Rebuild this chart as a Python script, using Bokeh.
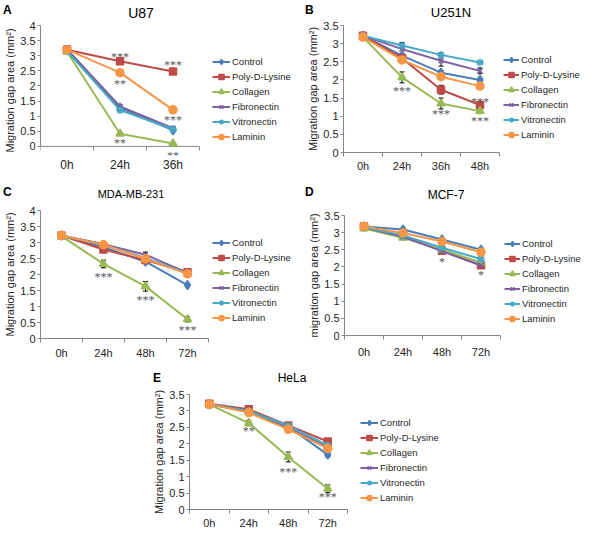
from bokeh.plotting import figure
from bokeh.models import (Range1d, FixedTicker, PrintfTickFormatter, Legend, LegendItem,
                          LabelSet, Whisker, TeeHead, ColumnDataSource, Spacer, Div)
from bokeh.layouts import column, row
from bokeh.embed import file_html
from bokeh.resources import INLINE

# ---------------- data ----------------
SERIES = ["Control", "Poly-D-Lysine", "Collagen", "Fibronectin", "Vitronectin", "Laminin"]

U87_TIMES = ["0h", "24h", "36h"]
U87_VALUES = {
    "Control":       [3.20, 1.28, 0.53],
    "Poly-D-Lysine": [3.20, 2.82, 2.48],
    "Collagen":      [3.13, 0.42, 0.10],
    "Fibronectin":   [3.22, 1.32, 0.60],
    "Vitronectin":   [3.15, 1.20, 0.57],
    "Laminin":       [3.20, 2.44, 1.21],
}
U87_ERRORS = {
    "Control":       [0.10, 0.05, 0.04],
    "Poly-D-Lysine": [0.13, 0.05, 0.04],
    "Collagen":      [0.05, 0.04, 0.03],
    "Fibronectin":   [0.05, 0.05, 0.04],
    "Vitronectin":   [0.05, 0.05, 0.04],
    "Laminin":       [0.05, 0.05, 0.04],
}
U87_SIG_T = ["24h", "36h", "24h", "36h", "24h", "36h"]
U87_SIG_Y = [3.07, 2.79, 2.18, 0.99, 0.20, -0.22]
U87_SIG = ["***", "***", "**", "***", "**", "**"]

U251N_TIMES = ["0h", "24h", "36h", "48h"]
U251N_VALUES = {
    "Control":       [3.22, 2.67, 2.20, 2.00],
    "Poly-D-Lysine": [3.22, 2.60, 1.73, 1.31],
    "Collagen":      [3.18, 2.07, 1.35, 1.14],
    "Fibronectin":   [3.22, 2.85, 2.53, 2.25],
    "Vitronectin":   [3.22, 2.95, 2.69, 2.48],
    "Laminin":       [3.18, 2.55, 2.09, 1.83],
}
U251N_ERRORS = {
    "Control":       [0.05, 0.06, 0.05, 0.05],
    "Poly-D-Lysine": [0.05, 0.05, 0.12, 0.08],
    "Collagen":      [0.05, 0.15, 0.15, 0.06],
    "Fibronectin":   [0.05, 0.15, 0.15, 0.08],
    "Vitronectin":   [0.05, 0.08, 0.05, 0.03],
    "Laminin":       [0.04, 0.05, 0.05, 0.05],
}
U251N_SIG_T = ["24h", "36h", "48h", "48h"]
U251N_SIG_Y = [1.78, 1.13, 1.47, 0.95]
U251N_SIG = ["***", "***", "***", "***"]

MDA_TIMES = ["0h", "24h", "48h", "72h"]
MDA_VALUES = {
    "Control":       [3.22, 2.85, 2.40, 1.67],
    "Poly-D-Lysine": [3.22, 2.78, 2.45, 2.07],
    "Collagen":      [3.20, 2.33, 1.63, 0.60],
    "Fibronectin":   [3.22, 2.95, 2.62, 2.05],
    "Vitronectin":   [3.22, 2.92, 2.52, 2.03],
    "Laminin":       [3.22, 2.93, 2.49, 2.02],
}
MDA_ERRORS = {
    "Control":       [0.07, 0.07, 0.06, 0.04],
    "Poly-D-Lysine": [0.07, 0.07, 0.06, 0.05],
    "Collagen":      [0.07, 0.12, 0.15, 0.08],
    "Fibronectin":   [0.07, 0.07, 0.08, 0.05],
    "Vitronectin":   [0.07, 0.07, 0.06, 0.05],
    "Laminin":       [0.07, 0.07, 0.06, 0.05],
}
MDA_SIG_T = ["24h", "48h", "72h"]
MDA_SIG_Y = [2.02, 1.31, 0.35]
MDA_SIG = ["***", "***", "***"]

MCF_TIMES = ["0h", "24h", "48h", "72h"]
MCF_VALUES = {
    "Control":       [3.18, 3.09, 2.80, 2.50],
    "Poly-D-Lysine": [3.18, 2.90, 2.47, 2.05],
    "Collagen":      [3.12, 2.85, 2.50, 2.13],
    "Fibronectin":   [3.15, 2.88, 2.46, 2.04],
    "Vitronectin":   [3.15, 2.92, 2.56, 2.23],
    "Laminin":       [3.18, 2.99, 2.74, 2.43],
}
MCF_ERRORS = {
    "Control":       [0.05, 0.04, 0.05, 0.05],
    "Poly-D-Lysine": [0.05, 0.04, 0.05, 0.07],
    "Collagen":      [0.05, 0.04, 0.05, 0.05],
    "Fibronectin":   [0.05, 0.04, 0.05, 0.05],
    "Vitronectin":   [0.05, 0.04, 0.05, 0.05],
    "Laminin":       [0.05, 0.04, 0.05, 0.05],
}
MCF_SIG_T = ["48h", "72h"]
MCF_SIG_Y = [2.23, 1.84]
MCF_SIG = ["*", "*"]

HELA_TIMES = ["0h", "24h", "48h", "72h"]
HELA_VALUES = {
    "Control":       [3.20, 3.02, 2.52, 1.67],
    "Poly-D-Lysine": [3.22, 3.05, 2.56, 2.07],
    "Collagen":      [3.20, 2.63, 1.60, 0.63],
    "Fibronectin":   [3.20, 2.98, 2.48, 1.90],
    "Vitronectin":   [3.20, 3.00, 2.55, 1.95],
    "Laminin":       [3.20, 2.95, 2.44, 1.86],
}
HELA_ERRORS = {
    "Control":       [0.10, 0.05, 0.05, 0.07],
    "Poly-D-Lysine": [0.10, 0.05, 0.05, 0.05],
    "Collagen":      [0.10, 0.08, 0.15, 0.12],
    "Fibronectin":   [0.10, 0.05, 0.05, 0.05],
    "Vitronectin":   [0.10, 0.05, 0.05, 0.05],
    "Laminin":       [0.10, 0.05, 0.05, 0.05],
}
HELA_SIG_T = ["24h", "48h", "72h"]
HELA_SIG_Y = [2.47, 1.24, 0.47]
HELA_SIG = ["**", "***", "***"]

# ---------------- styles ----------------
COLORS = ["#4A7EBB", "#BE4B48", "#98B954", "#7D60A0", "#46AAC5", "#F79646"]
MARKERS = ["diamond", "square", "triangle", "x", "asterisk", "circle"]
MSIZES = [9, 7, 8, 7, 8, 8]
FONT = "Liberation Sans"
TXT = "#262626"
AXIS = "#868686"


def header(width, height, letter, lx, ly, title, tx, ty, tfs):
    html = (
        f'<div style="position:relative;width:{width}px;height:{height}px;'
        f'font-family:\'Liberation Sans\',Arial,sans-serif;color:#000;overflow:visible">'
        f'<span style="position:absolute;left:{lx}px;top:{ly}px;font-size:12px;'
        f'line-height:12px;font-weight:bold">{letter}</span>'
        f'<span style="position:absolute;left:{tx}px;top:{ty}px;font-size:{tfs}px;'
        f'line-height:{tfs}px;transform:translateX(-50%);white-space:nowrap">{title}</span>'
        f'</div>')
    return Div(text=html, width=width, height=height, margin=0)


def build(cfg):
    times = cfg["times"]
    n = len(times)
    xs = list(range(1, n + 1))
    bounds = [x - 0.5 for x in xs] + [n + 0.5]
    frame_w = cfg["w"] - cfg["bl"] - cfg["br"]
    frame_h = cfg["h"] - cfg["bt"] - cfg["bb"]
    x_end = 0.5 + frame_w / cfg["cat_px"]          # frame also holds the legend area
    ymin, ymax = cfg["ymin"], cfg["ymax"]
    p = figure(width=cfg["w"], height=cfg["h"],
               x_range=Range1d(0.5, x_end), y_range=Range1d(ymin, ymax),
               output_backend="svg", toolbar_location=None,
               min_border_left=cfg["bl"], min_border_right=cfg["br"],
               min_border_top=cfg["bt"], min_border_bottom=cfg["bb"])
    p.outline_line_color = None
    p.xgrid.visible = False
    p.ygrid.visible = False
    p.background_fill_color = None
    p.border_fill_color = None

    # y axis
    ya = p.yaxis[0]
    ya.ticker = FixedTicker(ticks=[i * 0.5 for i in range(int(ymax * 2) + 1)])
    ya.formatter = PrintfTickFormatter(format="%g")
    ya.bounds = (0, ymax)
    ya.axis_line_color = AXIS
    ya.major_tick_line_color = AXIS
    ya.major_tick_out = 3
    ya.major_tick_in = 0
    ya.minor_tick_line_color = None
    ya.major_label_standoff = 2
    ya.major_label_text_font = FONT
    ya.major_label_text_font_size = cfg["tick_fs"]
    ya.major_label_text_color = TXT
    ya.axis_label = cfg["ylabel"]
    ya.axis_label_standoff = 1
    ya.axis_label_text_font = FONT
    ya.axis_label_text_font_style = "normal"
    ya.axis_label_text_font_size = cfg["ylab_fs"]
    ya.axis_label_text_color = TXT

    # x axis: labels at category centres, ticks at category boundaries
    xa = p.xaxis[0]
    xa.ticker = FixedTicker(ticks=xs, minor_ticks=bounds)
    xa.major_label_overrides = {x: t for x, t in zip(xs, times)}
    xa.bounds = (0.5, n + 0.5)
    xa.major_tick_line_color = None
    xa.major_tick_out = 0
    xa.major_tick_in = 0
    xa.minor_tick_in = 0
    xa.major_label_standoff = cfg["xstand"]
    xa.major_label_text_font = FONT
    xa.major_label_text_font_size = cfg["xtick_fs"]
    xa.major_label_text_color = TXT
    if ymin < 0:
        # the value axis starts below zero (a mark lies under the baseline):
        # draw the category baseline at y = 0 and keep the axis for the labels only
        xa.axis_line_color = None
        xa.minor_tick_line_color = None
        xa.minor_tick_out = 0
        tick = 4 * (ymax - ymin) / frame_h
        p.segment(x0=[0.5], y0=[0], x1=[n + 0.5], y1=[0], line_color=AXIS, line_width=1)
        p.segment(x0=bounds, y0=[0] * len(bounds), x1=bounds, y1=[-tick] * len(bounds),
                  line_color=AXIS, line_width=1)
    else:
        xa.axis_line_color = AXIS
        xa.minor_tick_line_color = AXIS
        xa.minor_tick_out = 4

    items = []
    for name, col, mk, ms in zip(SERIES, COLORS, MARKERS, MSIZES):
        vals = cfg["values"][name]
        errs = cfg["errors"][name]
        src = ColumnDataSource(dict(x=xs, y=vals,
                                    upper=[v + e for v, e in zip(vals, errs)],
                                    lower=[v - e for v, e in zip(vals, errs)]))
        lr = p.line("x", "y", source=src, line_color=col, line_width=2)
        p.add_layout(Whisker(source=src, base="x", upper="upper", lower="lower",
                             line_color="black", line_width=1,
                             upper_head=TeeHead(size=5, line_color="black", line_width=1),
                             lower_head=TeeHead(size=5, line_color="black", line_width=1)))
        sr = p.scatter("x", "y", source=src, marker=mk, size=ms,
                       fill_color=col, line_color=col, line_width=1.5)
        items.append(LegendItem(label=name, renderers=[lr, sr]))

    # significance marks
    sig = ColumnDataSource(dict(x=[times.index(t) + 1 for t in cfg["sig_t"]],
                                y=cfg["sig_y"], text=cfg["sig"]))
    p.add_layout(LabelSet(x="x", y="y", text="text", source=sig,
                          text_align="center", text_baseline="middle", y_offset=-3,
                          text_font=FONT, text_font_size="12px", text_color="#595959"))

    legend = Legend(items=items, location=(cfg["leg_x"], cfg["leg_y"]),
                    orientation="vertical",
                    margin=0, padding=0, spacing=2, glyph_width=cfg["gw"], glyph_height=13,
                    label_height=13, label_standoff=2,
                    label_text_font=FONT, label_text_font_size="9.5px", label_text_color=TXT,
                    background_fill_alpha=0, border_line_color=None)
    p.add_layout(legend)
    return p


YLAB = "Migration gap area (mm\u00b2)"

pA = build(dict(times=U87_TIMES, values=U87_VALUES, errors=U87_ERRORS,
                sig_t=U87_SIG_T, sig_y=U87_SIG_Y, sig=U87_SIG, ymin=-0.3, ymax=4,
                w=292, h=168, bl=40, br=0, bt=7, bb=31, cat_px=53, xstand=2,
                tick_fs="11px", xtick_fs="12px", ylab_fs="11px", ylabel=YLAB,
                leg_x=172, leg_y=12, gw=18))
pB = build(dict(times=U251N_TIMES, values=U251N_VALUES, errors=U251N_ERRORS,
                sig_t=U251N_SIG_T, sig_y=U251N_SIG_Y, sig=U251N_SIG, ymin=0, ymax=3.5,
                w=292, h=168, bl=51, br=0, bt=7, bb=34, cat_px=39, xstand=3,
                tick_fs="11px", xtick_fs="11px", ylab_fs="11px", ylabel=YLAB,
                leg_x=160, leg_y=11, gw=16))
pC = build(dict(times=MDA_TIMES, values=MDA_VALUES, errors=MDA_ERRORS,
                sig_t=MDA_SIG_T, sig_y=MDA_SIG_Y, sig=MDA_SIG, ymin=0, ymax=4,
                w=292, h=168, bl=40, br=0, bt=6, bb=34, cat_px=42, xstand=4,
                tick_fs="11px", xtick_fs="11px", ylab_fs="11px", ylabel=YLAB,
                leg_x=172, leg_y=14, gw=18))
pD = build(dict(times=MCF_TIMES, values=MCF_VALUES, errors=MCF_ERRORS,
                sig_t=MCF_SIG_T, sig_y=MCF_SIG_Y, sig=MCF_SIG, ymin=0, ymax=3.5,
                w=292, h=168, bl=52, br=0, bt=11, bb=37, cat_px=39, xstand=6,
                tick_fs="11px", xtick_fs="11px", ylab_fs="11px",
                ylabel="migration gap area (mm\u00b2)",
                leg_x=160, leg_y=10, gw=16))
pE = build(dict(times=HELA_TIMES, values=HELA_VALUES, errors=HELA_ERRORS,
                sig_t=HELA_SIG_T, sig_y=HELA_SIG_Y, sig=HELA_SIG, ymin=0, ymax=3.5,
                w=302, h=145, bl=49, br=0, bt=8, bb=21, cat_px=39.5, xstand=3,
                tick_fs="11px", xtick_fs="11px", ylab_fs="11px", ylabel=YLAB,
                leg_x=171, leg_y=5, gw=18))

hA = header(292, 18, "A", 3, 4, "U87", 141, 6, 14)
hB = header(292, 18, "B", 13, 4, "U251N", 159, 6, 13)
hC = header(292, 18, "C", 3, 0, "MDA-MB-231", 131, 3, 11)
hD = header(292, 18, "D", 13, 0, "MCF-7", 154, 3, 12)
hE = header(302, 14, "E", 13, 0, "HeLa", 152, 0, 12)

layout = column(
    row(column(hA, pA), column(hB, pB)),
    row(column(hC, pC), column(hD, pD)),
    row(Spacer(width=140, height=159), column(hE, pE)),
)

with open("out.html", "w") as f:
    f.write(file_html(layout, INLINE))
